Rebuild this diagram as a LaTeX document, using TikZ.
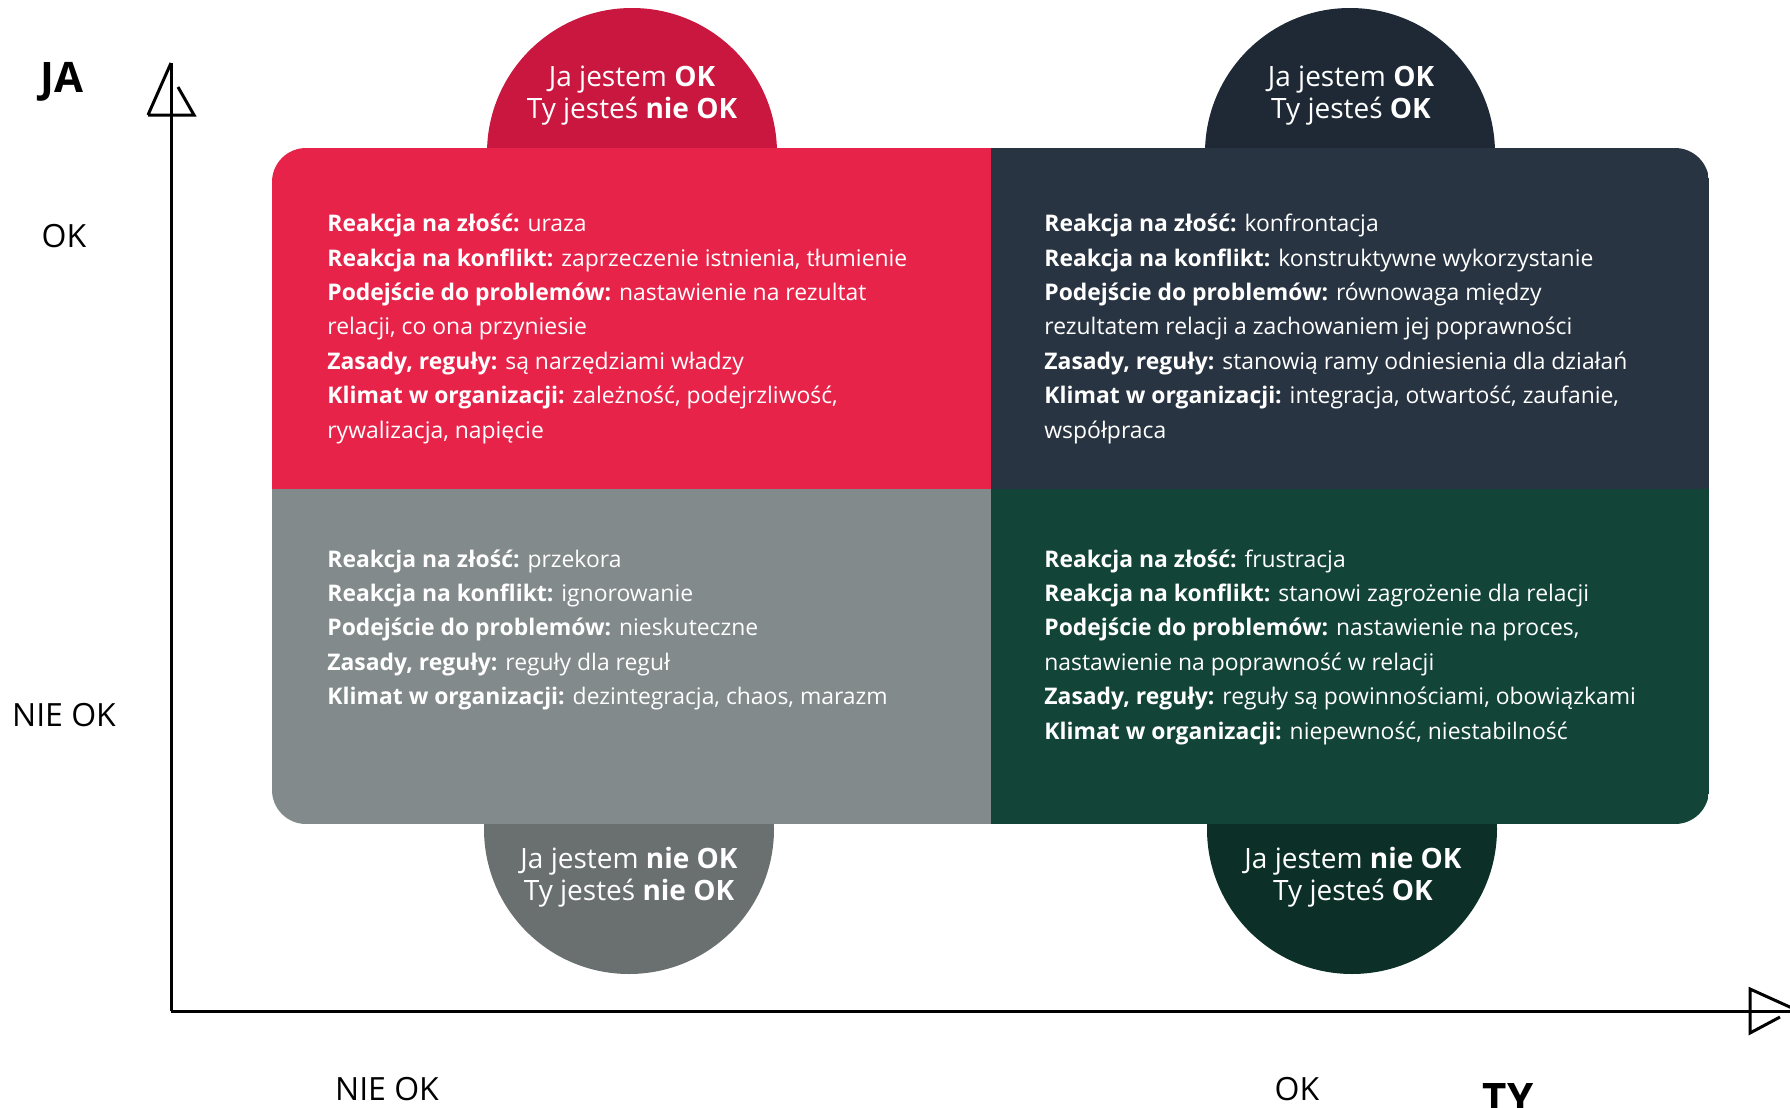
\documentclass[tikz,border=0pt]{standalone}
\usepackage{fontspec}
\setmainfont{Open Sans}
\definecolor{czerwony}{HTML}{E8234A}
\definecolor{czerwonyk}{HTML}{C9173F}
\definecolor{granat}{HTML}{283441}
\definecolor{granatk}{HTML}{1E2935}
\definecolor{szary}{HTML}{838A8B}
\definecolor{szaryk}{HTML}{6A706F}
\definecolor{zielony}{HTML}{124438}
\definecolor{zielonyk}{HTML}{0C3027}
\tikzstyle{kolo}=[circle, minimum size=145pt, inner sep=0pt]
\tikzstyle{napis}=[align=center, text=white, inner sep=0pt, anchor=base, font=\fontsize{14}{16}\selectfont]
\tikzstyle{opis}=[align=left, text=white, inner sep=0pt, anchor=base west, font=\fontsize{11.45}{17.2}\selectfont]
\tikzstyle{etykieta}=[inner sep=0pt, anchor=base, font=\fontsize{16}{18}\selectfont]
\tikzstyle{os}=[line width=1.5pt]

\begin{document}
\begin{tikzpicture}[x=0.5pt, y=-0.5pt]
        \useasboundingbox (0, 0) rectangle (1790, 1108);
        % kola pod kwadrantami
        \node[kolo, fill=czerwonyk] (k1) at (632, 153) {};
        \node[kolo, fill=granatk] (k2) at (1350, 153) {};
        \node[kolo, fill=szaryk] (k3) at (629, 829) {};
        \node[kolo, fill=zielonyk] (k4) at (1352, 829) {};
        \begin{scope}
            \clip[rounded corners=17pt] (272, 148) rectangle (1709, 824);
            \fill[czerwony] (272, 148) rectangle (991, 489);
            \fill[granat] (991, 148) rectangle (1709, 489);
            \fill[szary] (272, 489) rectangle (991, 824);
            \fill[zielony] (991, 489) rectangle (1709, 824);
        \end{scope}
        % anchor=base to linia bazowa ostatniego wiersza
        \node[napis] (n1) at (632, 118) {Ja jestem \textbf{OK}\\Ty jesteś \textbf{nie OK}};
        \node[napis] (n2) at (1351, 118) {Ja jestem \textbf{OK}\\Ty jesteś \textbf{OK}};
        \node[napis] (n3) at (629, 900) {Ja jestem \textbf{nie OK}\\Ty jesteś \textbf{nie OK}};
        \node[napis] (n4) at (1353, 900) {Ja jestem \textbf{nie OK}\\Ty jesteś \textbf{OK}};
        \node[opis] (q1) at (327, 438) {\textbf{Reakcja na złość:} uraza\\
            \textbf{Reakcja na konflikt:} zaprzeczenie istnienia, tłumienie\\
            \textbf{Podejście do problemów:} nastawienie na rezultat\\
            relacji, co ona przyniesie\\
            \textbf{Zasady, reguły:} są narzędziami władzy\\
            \textbf{Klimat w organizacji:} zależność, podejrzliwość,\\
            rywalizacja, napięcie};
        \node[opis] (q2) at (1044, 438) {\textbf{Reakcja na złość:} konfrontacja\\
            \textbf{Reakcja na konflikt:} konstruktywne wykorzystanie\\
            \textbf{Podejście do problemów:} równowaga między\\
            rezultatem relacji a zachowaniem jej poprawności\\
            \textbf{Zasady, reguły:} stanowią ramy odniesienia dla działań\\
            \textbf{Klimat w organizacji:} integracja, otwartość, zaufanie,\\
            współpraca};
        \node[opis] (q3) at (327, 704.6) {\textbf{Reakcja na złość:} przekora\\
            \textbf{Reakcja na konflikt:} ignorowanie\\
            \textbf{Podejście do problemów:} nieskuteczne\\
            \textbf{Zasady, reguły:} reguły dla reguł\\
            \textbf{Klimat w organizacji:} dezintegracja, chaos, marazm};
        \node[opis] (q4) at (1044, 739) {\textbf{Reakcja na złość:} frustracja\\
            \textbf{Reakcja na konflikt:} stanowi zagrożenie dla relacji\\
            \textbf{Podejście do problemów:} nastawienie na proces,\\
            nastawienie na poprawność w relacji\\
            \textbf{Zasady, reguły:} reguły są powinnościami, obowiązkami\\
            \textbf{Klimat w organizacji:} niepewność, niestabilność};
        % osie
        \coordinate (O) at (171, 1011);
        \coordinate (Y) at (171, 63);
        \coordinate (X) at (1790, 1011);
        \draw[os] (O) -- (Y);
        \draw[os] (O) -- (X);
        \draw[os] (148, 115) -- (Y) (178, 87) -- (194, 115) -- (148, 115);
        \draw[os] (1750, 1011) -- (1750, 989) -- (1792, 1008) (1780, 1017) -- (1750, 1033) -- (1750, 1011);
        \node[etykieta, font=\fontsize{21}{24}\selectfont\bfseries] (ja) at (62, 92) {JA};
        \node[etykieta] (jaok) at (64, 247) {OK};
        \node[etykieta] (janie) at (64, 726) {NIE OK};
        \node[etykieta] (tynie) at (387, 1100) {NIE OK};
        \node[etykieta] (tyok) at (1297, 1100) {OK};
        \node[etykieta, font=\fontsize{21}{24}\selectfont\bfseries] (ty) at (1508, 1113) {TY};
    \end{tikzpicture}
\end{document}
